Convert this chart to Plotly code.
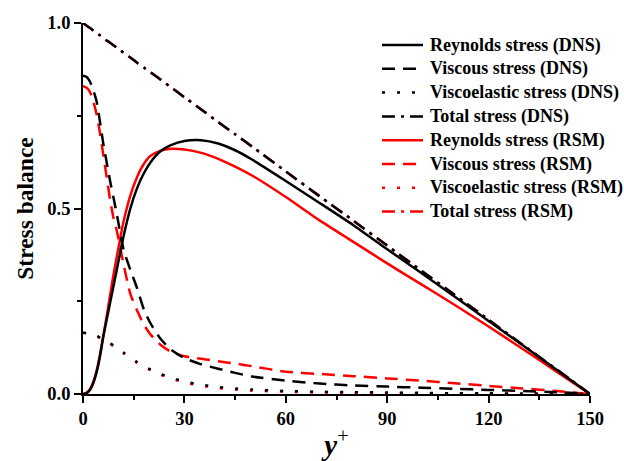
import plotly.graph_objects as go

# Wall-normal coordinate y+ (shared sampling for all profiles)
y_plus = [0, 1, 2, 3, 4, 5, 6, 7, 8, 9, 10, 12, 14, 16, 18, 20, 23, 26, 30, 35,
          40, 45, 50, 60, 70, 80, 90, 100, 110, 120, 130, 140, 150]

# DNS profiles
reynolds_dns = [0.0, 0.002, 0.010, 0.028, 0.058, 0.100, 0.155, 0.200, 0.245, 0.290,
                0.335, 0.425, 0.500, 0.555, 0.595, 0.625, 0.655, 0.671, 0.682, 0.684,
                0.675, 0.657, 0.632, 0.574, 0.515, 0.455, 0.390, 0.327, 0.262, 0.197,
                0.132, 0.066, 0.0]
viscous_dns = [0.858, 0.855, 0.843, 0.820, 0.790, 0.735, 0.675, 0.625, 0.575, 0.530,
               0.485, 0.390, 0.335, 0.285, 0.228, 0.190, 0.148, 0.120, 0.097, 0.080,
               0.068, 0.057, 0.047, 0.036, 0.028, 0.023, 0.020, 0.017, 0.014, 0.011,
               0.008, 0.005, 0.0]
viscoelastic_dns = [0.165, 0.164, 0.162, 0.160, 0.157, 0.152, 0.147, 0.142, 0.137, 0.131,
                    0.125, 0.112, 0.098, 0.086, 0.075, 0.066, 0.054, 0.044, 0.034, 0.025,
                    0.019, 0.015, 0.012, 0.008, 0.006, 0.005, 0.004, 0.003, 0.002, 0.002,
                    0.001, 0.001, 0.0]
total_dns = [1.0, 0.993, 0.987, 0.980, 0.973, 0.967, 0.960, 0.953, 0.947, 0.940,
             0.933, 0.920, 0.907, 0.893, 0.880, 0.867, 0.847, 0.827, 0.800, 0.767,
             0.733, 0.700, 0.667, 0.600, 0.533, 0.467, 0.400, 0.333, 0.267, 0.200,
             0.133, 0.067, 0.0]

# RSM profiles
reynolds_rsm = [0.0, 0.003, 0.012, 0.032, 0.062, 0.105, 0.155, 0.210, 0.265, 0.320,
                0.370, 0.465, 0.535, 0.585, 0.620, 0.642, 0.656, 0.661, 0.659, 0.650,
                0.634, 0.613, 0.589, 0.531, 0.468, 0.410, 0.352, 0.296, 0.240, 0.182,
                0.122, 0.061, 0.0]
viscous_rsm = [0.830, 0.826, 0.815, 0.790, 0.755, 0.705, 0.645, 0.585, 0.525, 0.475,
               0.440, 0.350, 0.270, 0.225, 0.187, 0.160, 0.132, 0.114, 0.102, 0.095,
               0.088, 0.082, 0.075, 0.060, 0.054, 0.048, 0.042, 0.036, 0.029, 0.022,
               0.015, 0.008, 0.0]
viscoelastic_rsm = [0.165, 0.164, 0.162, 0.159, 0.156, 0.151, 0.146, 0.141, 0.135, 0.129,
                    0.123, 0.110, 0.096, 0.084, 0.073, 0.064, 0.052, 0.042, 0.031, 0.022,
                    0.016, 0.012, 0.009, 0.006, 0.004, 0.003, 0.003, 0.002, 0.002, 0.001,
                    0.001, 0.001, 0.0]
total_rsm = [1.0, 0.993, 0.987, 0.980, 0.973, 0.967, 0.960, 0.953, 0.947, 0.940,
             0.933, 0.920, 0.907, 0.893, 0.880, 0.867, 0.847, 0.827, 0.800, 0.767,
             0.733, 0.700, 0.667, 0.600, 0.533, 0.467, 0.400, 0.333, 0.267, 0.200,
             0.133, 0.067, 0.0]

x_ticks = [0, 30, 60, 90, 120, 150]
y_ticks = [0.0, 0.5, 1.0]

legend_names = ["Reynolds stress (DNS)", "Viscous stress (DNS)",
                "Viscoelastic stress (DNS)", "Total stress (DNS)",
                "Reynolds stress (RSM)", "Viscous stress (RSM)",
                "Viscoelastic stress (RSM)", "Total stress (RSM)"]

BLACK = "#000000"
RED = "#ff0000"
SOLID = "solid"
DASH = "13px,8px"
DOT = "3px,12px"
DASHDOT = "13px,6px,3px,6px"
LW = 2.5
FONT = "Liberation Serif"

series = [
    (reynolds_dns, BLACK, SOLID),
    (viscous_dns, BLACK, DASH),
    (viscoelastic_dns, BLACK, DOT),
    (total_dns, BLACK, DASHDOT),
    (reynolds_rsm, RED, SOLID),
    (viscous_rsm, RED, DASH),
    (viscoelastic_rsm, RED, DOT),
    (total_rsm, RED, DASHDOT),
]

# Red (RSM) curves go underneath, black (DNS) curves on top
draw_order = [7, 4, 5, 6, 0, 1, 2, 3]

fig = go.Figure()
for i in draw_order:
    vals, color, dash = series[i]
    fig.add_trace(go.Scatter(
        x=y_plus, y=vals, mode="lines", name=legend_names[i],
        line=dict(color=color, width=LW, dash=dash, shape="spline", smoothing=0.6),
        showlegend=False, hoverinfo="skip",
    ))

W, H = 624, 461
ML, MR, MT, MB = 83, 34, 23, 67
PW, PH = W - ML - MR, H - MT - MB


def px_x(px):
    return (px - ML) / PW


def px_y(py):
    return (H - MB - py) / PH


# Line-sample legend drawn with shapes and text
row0, row_gap = 45, 23.8
shapes, annotations = [], []
for k, name in enumerate(legend_names):
    _, color, dash = series[k]
    yc = row0 + k * row_gap
    shapes.append(dict(type="line", xref="paper", yref="paper",
                       x0=px_x(382), x1=px_x(423), y0=px_y(yc), y1=px_y(yc),
                       line=dict(color=color, width=LW, dash=dash)))
    annotations.append(dict(xref="paper", yref="paper", x=px_x(428), y=px_y(yc),
                            text=name, showarrow=False, xanchor="left", yanchor="middle",
                            font=dict(family=FONT, size=18, color="black", weight="bold")))

axis_common = dict(
    showline=True, linecolor="#000000", linewidth=1.8, mirror=False,
    ticks="outside", ticklen=7, tickwidth=1.6, tickcolor="#000000",
    showgrid=False, zeroline=False, automargin=False,
    tickfont=dict(family=FONT, size=18.5, color="black", weight="bold"),
)

fig.update_layout(
    width=W, height=H,
    margin=dict(l=ML, r=MR, t=MT, b=MB, pad=0),
    paper_bgcolor="white", plot_bgcolor="white",
    shapes=shapes, annotations=annotations,
    xaxis=dict(range=[0, 150], tickvals=x_ticks,
               minor=dict(dtick=15, ticks="outside", ticklen=4, tickwidth=1.6,
                          tickcolor="#000000"),
               title=dict(text="<b><i>y</i></b><sup>+</sup>", standoff=22,
                          font=dict(family=FONT, size=29, color="black")),
               **axis_common),
    yaxis=dict(range=[0, 1], tickvals=y_ticks, tickformat=".1f",
               minor=dict(dtick=0.25, ticks="outside", ticklen=4, tickwidth=1.6,
                          tickcolor="#000000"),
               title=dict(text="Stress balance", standoff=7,
                          font=dict(family=FONT, size=23.5, color="black", weight="bold")),
               **axis_common),
    showlegend=False,
)

fig.write_html("out.html")
